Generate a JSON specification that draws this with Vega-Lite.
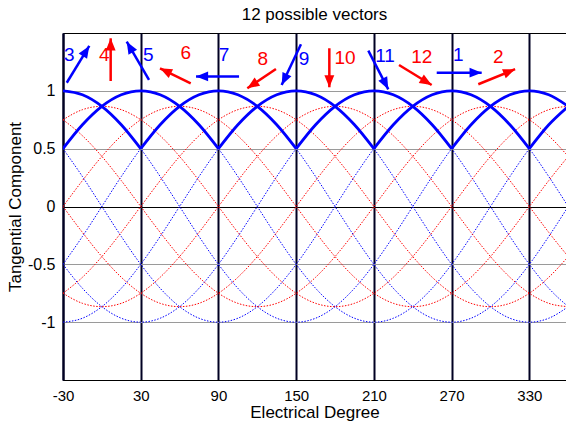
{
"$schema": "https://vega.github.io/schema/vega-lite/v6.json",
"width": 503,
"height": 347,
"autosize": {"type": "none"},
"padding": {"left": 63, "top": 33, "right": 0, "bottom": 41},
"background": "white",
"title": {"text": "12 possible vectors", "fontSize": 17, "font": "Liberation Sans", "fontWeight": "normal", "color": "black", "baseline": "alphabetic", "offset": -4},
"config": {"view": {"stroke": "black", "strokeWidth": 1}, "font": "Liberation Sans"},
"resolve": {"scale": {"color": "independent"}},
"datasets": {
"curves": [
{"s":"b30","x":-30,"y":0.5},{"s":"b30","x":-15,"y":0.707},{"s":"b30","x":0,"y":0.866},{"s":"b30","x":15,"y":0.966},{"s":"b30","x":30,"y":1},{"s":"b30","x":45,"y":0.966},{"s":"b30","x":60,"y":0.866},{"s":"b30","x":75,"y":0.707},{"s":"b30","x":90,"y":0.5},{"s":"b30","x":105,"y":0.259},{"s":"b30","x":120,"y":0},{"s":"b30","x":135,"y":-0.259},{"s":"b30","x":150,"y":-0.5},{"s":"b30","x":165,"y":-0.707},{"s":"b30","x":180,"y":-0.866},{"s":"b30","x":195,"y":-0.966},{"s":"b30","x":210,"y":-1},{"s":"b30","x":225,"y":-0.966},{"s":"b30","x":240,"y":-0.866},{"s":"b30","x":255,"y":-0.707},{"s":"b30","x":270,"y":-0.5},{"s":"b30","x":285,"y":-0.259},{"s":"b30","x":300,"y":0},{"s":"b30","x":315,"y":0.259},{"s":"b30","x":330,"y":0.5},{"s":"b30","x":345,"y":0.707},{"s":"b30","x":360,"y":0.866},
{"s":"b90","x":-30,"y":-0.5},{"s":"b90","x":-15,"y":-0.259},{"s":"b90","x":0,"y":0},{"s":"b90","x":15,"y":0.259},{"s":"b90","x":30,"y":0.5},{"s":"b90","x":45,"y":0.707},{"s":"b90","x":60,"y":0.866},{"s":"b90","x":75,"y":0.966},{"s":"b90","x":90,"y":1},{"s":"b90","x":105,"y":0.966},{"s":"b90","x":120,"y":0.866},{"s":"b90","x":135,"y":0.707},{"s":"b90","x":150,"y":0.5},{"s":"b90","x":165,"y":0.259},{"s":"b90","x":180,"y":0},{"s":"b90","x":195,"y":-0.259},{"s":"b90","x":210,"y":-0.5},{"s":"b90","x":225,"y":-0.707},{"s":"b90","x":240,"y":-0.866},{"s":"b90","x":255,"y":-0.966},{"s":"b90","x":270,"y":-1},{"s":"b90","x":285,"y":-0.966},{"s":"b90","x":300,"y":-0.866},{"s":"b90","x":315,"y":-0.707},{"s":"b90","x":330,"y":-0.5},{"s":"b90","x":345,"y":-0.259},{"s":"b90","x":360,"y":0},
{"s":"b150","x":-30,"y":-1},{"s":"b150","x":-15,"y":-0.966},{"s":"b150","x":0,"y":-0.866},{"s":"b150","x":15,"y":-0.707},{"s":"b150","x":30,"y":-0.5},{"s":"b150","x":45,"y":-0.259},{"s":"b150","x":60,"y":0},{"s":"b150","x":75,"y":0.259},{"s":"b150","x":90,"y":0.5},{"s":"b150","x":105,"y":0.707},{"s":"b150","x":120,"y":0.866},{"s":"b150","x":135,"y":0.966},{"s":"b150","x":150,"y":1},{"s":"b150","x":165,"y":0.966},{"s":"b150","x":180,"y":0.866},{"s":"b150","x":195,"y":0.707},{"s":"b150","x":210,"y":0.5},{"s":"b150","x":225,"y":0.259},{"s":"b150","x":240,"y":0},{"s":"b150","x":255,"y":-0.259},{"s":"b150","x":270,"y":-0.5},{"s":"b150","x":285,"y":-0.707},{"s":"b150","x":300,"y":-0.866},{"s":"b150","x":315,"y":-0.966},{"s":"b150","x":330,"y":-1},{"s":"b150","x":345,"y":-0.966},{"s":"b150","x":360,"y":-0.866},
{"s":"b210","x":-30,"y":-0.5},{"s":"b210","x":-15,"y":-0.707},{"s":"b210","x":0,"y":-0.866},{"s":"b210","x":15,"y":-0.966},{"s":"b210","x":30,"y":-1},{"s":"b210","x":45,"y":-0.966},{"s":"b210","x":60,"y":-0.866},{"s":"b210","x":75,"y":-0.707},{"s":"b210","x":90,"y":-0.5},{"s":"b210","x":105,"y":-0.259},{"s":"b210","x":120,"y":0},{"s":"b210","x":135,"y":0.259},{"s":"b210","x":150,"y":0.5},{"s":"b210","x":165,"y":0.707},{"s":"b210","x":180,"y":0.866},{"s":"b210","x":195,"y":0.966},{"s":"b210","x":210,"y":1},{"s":"b210","x":225,"y":0.966},{"s":"b210","x":240,"y":0.866},{"s":"b210","x":255,"y":0.707},{"s":"b210","x":270,"y":0.5},{"s":"b210","x":285,"y":0.259},{"s":"b210","x":300,"y":0},{"s":"b210","x":315,"y":-0.259},{"s":"b210","x":330,"y":-0.5},{"s":"b210","x":345,"y":-0.707},{"s":"b210","x":360,"y":-0.866},
{"s":"b270","x":-30,"y":0.5},{"s":"b270","x":-15,"y":0.259},{"s":"b270","x":0,"y":0},{"s":"b270","x":15,"y":-0.259},{"s":"b270","x":30,"y":-0.5},{"s":"b270","x":45,"y":-0.707},{"s":"b270","x":60,"y":-0.866},{"s":"b270","x":75,"y":-0.966},{"s":"b270","x":90,"y":-1},{"s":"b270","x":105,"y":-0.966},{"s":"b270","x":120,"y":-0.866},{"s":"b270","x":135,"y":-0.707},{"s":"b270","x":150,"y":-0.5},{"s":"b270","x":165,"y":-0.259},{"s":"b270","x":180,"y":0},{"s":"b270","x":195,"y":0.259},{"s":"b270","x":210,"y":0.5},{"s":"b270","x":225,"y":0.707},{"s":"b270","x":240,"y":0.866},{"s":"b270","x":255,"y":0.966},{"s":"b270","x":270,"y":1},{"s":"b270","x":285,"y":0.966},{"s":"b270","x":300,"y":0.866},{"s":"b270","x":315,"y":0.707},{"s":"b270","x":330,"y":0.5},{"s":"b270","x":345,"y":0.259},{"s":"b270","x":360,"y":0},
{"s":"b330","x":-30,"y":1},{"s":"b330","x":-15,"y":0.966},{"s":"b330","x":0,"y":0.866},{"s":"b330","x":15,"y":0.707},{"s":"b330","x":30,"y":0.5},{"s":"b330","x":45,"y":0.259},{"s":"b330","x":60,"y":0},{"s":"b330","x":75,"y":-0.259},{"s":"b330","x":90,"y":-0.5},{"s":"b330","x":105,"y":-0.707},{"s":"b330","x":120,"y":-0.866},{"s":"b330","x":135,"y":-0.966},{"s":"b330","x":150,"y":-1},{"s":"b330","x":165,"y":-0.966},{"s":"b330","x":180,"y":-0.866},{"s":"b330","x":195,"y":-0.707},{"s":"b330","x":210,"y":-0.5},{"s":"b330","x":225,"y":-0.259},{"s":"b330","x":240,"y":0},{"s":"b330","x":255,"y":0.259},{"s":"b330","x":270,"y":0.5},{"s":"b330","x":285,"y":0.707},{"s":"b330","x":300,"y":0.866},{"s":"b330","x":315,"y":0.966},{"s":"b330","x":330,"y":1},{"s":"b330","x":345,"y":0.966},{"s":"b330","x":360,"y":0.866},
{"s":"r0","x":-30,"y":0.75},{"s":"r0","x":-15,"y":0.837},{"s":"r0","x":0,"y":0.866},{"s":"r0","x":15,"y":0.837},{"s":"r0","x":30,"y":0.75},{"s":"r0","x":45,"y":0.612},{"s":"r0","x":60,"y":0.433},{"s":"r0","x":75,"y":0.224},{"s":"r0","x":90,"y":0},{"s":"r0","x":105,"y":-0.224},{"s":"r0","x":120,"y":-0.433},{"s":"r0","x":135,"y":-0.612},{"s":"r0","x":150,"y":-0.75},{"s":"r0","x":165,"y":-0.837},{"s":"r0","x":180,"y":-0.866},{"s":"r0","x":195,"y":-0.837},{"s":"r0","x":210,"y":-0.75},{"s":"r0","x":225,"y":-0.612},{"s":"r0","x":240,"y":-0.433},{"s":"r0","x":255,"y":-0.224},{"s":"r0","x":270,"y":0},{"s":"r0","x":285,"y":0.224},{"s":"r0","x":300,"y":0.433},{"s":"r0","x":315,"y":0.612},{"s":"r0","x":330,"y":0.75},{"s":"r0","x":345,"y":0.837},{"s":"r0","x":360,"y":0.866},
{"s":"r60","x":-30,"y":0},{"s":"r60","x":-15,"y":0.224},{"s":"r60","x":0,"y":0.433},{"s":"r60","x":15,"y":0.612},{"s":"r60","x":30,"y":0.75},{"s":"r60","x":45,"y":0.837},{"s":"r60","x":60,"y":0.866},{"s":"r60","x":75,"y":0.837},{"s":"r60","x":90,"y":0.75},{"s":"r60","x":105,"y":0.612},{"s":"r60","x":120,"y":0.433},{"s":"r60","x":135,"y":0.224},{"s":"r60","x":150,"y":0},{"s":"r60","x":165,"y":-0.224},{"s":"r60","x":180,"y":-0.433},{"s":"r60","x":195,"y":-0.612},{"s":"r60","x":210,"y":-0.75},{"s":"r60","x":225,"y":-0.837},{"s":"r60","x":240,"y":-0.866},{"s":"r60","x":255,"y":-0.837},{"s":"r60","x":270,"y":-0.75},{"s":"r60","x":285,"y":-0.612},{"s":"r60","x":300,"y":-0.433},{"s":"r60","x":315,"y":-0.224},{"s":"r60","x":330,"y":0},{"s":"r60","x":345,"y":0.224},{"s":"r60","x":360,"y":0.433},
{"s":"r120","x":-30,"y":-0.75},{"s":"r120","x":-15,"y":-0.612},{"s":"r120","x":0,"y":-0.433},{"s":"r120","x":15,"y":-0.224},{"s":"r120","x":30,"y":0},{"s":"r120","x":45,"y":0.224},{"s":"r120","x":60,"y":0.433},{"s":"r120","x":75,"y":0.612},{"s":"r120","x":90,"y":0.75},{"s":"r120","x":105,"y":0.837},{"s":"r120","x":120,"y":0.866},{"s":"r120","x":135,"y":0.837},{"s":"r120","x":150,"y":0.75},{"s":"r120","x":165,"y":0.612},{"s":"r120","x":180,"y":0.433},{"s":"r120","x":195,"y":0.224},{"s":"r120","x":210,"y":0},{"s":"r120","x":225,"y":-0.224},{"s":"r120","x":240,"y":-0.433},{"s":"r120","x":255,"y":-0.612},{"s":"r120","x":270,"y":-0.75},{"s":"r120","x":285,"y":-0.837},{"s":"r120","x":300,"y":-0.866},{"s":"r120","x":315,"y":-0.837},{"s":"r120","x":330,"y":-0.75},{"s":"r120","x":345,"y":-0.612},{"s":"r120","x":360,"y":-0.433},
{"s":"r180","x":-30,"y":-0.75},{"s":"r180","x":-15,"y":-0.837},{"s":"r180","x":0,"y":-0.866},{"s":"r180","x":15,"y":-0.837},{"s":"r180","x":30,"y":-0.75},{"s":"r180","x":45,"y":-0.612},{"s":"r180","x":60,"y":-0.433},{"s":"r180","x":75,"y":-0.224},{"s":"r180","x":90,"y":0},{"s":"r180","x":105,"y":0.224},{"s":"r180","x":120,"y":0.433},{"s":"r180","x":135,"y":0.612},{"s":"r180","x":150,"y":0.75},{"s":"r180","x":165,"y":0.837},{"s":"r180","x":180,"y":0.866},{"s":"r180","x":195,"y":0.837},{"s":"r180","x":210,"y":0.75},{"s":"r180","x":225,"y":0.612},{"s":"r180","x":240,"y":0.433},{"s":"r180","x":255,"y":0.224},{"s":"r180","x":270,"y":0},{"s":"r180","x":285,"y":-0.224},{"s":"r180","x":300,"y":-0.433},{"s":"r180","x":315,"y":-0.612},{"s":"r180","x":330,"y":-0.75},{"s":"r180","x":345,"y":-0.837},{"s":"r180","x":360,"y":-0.866},
{"s":"r240","x":-30,"y":0},{"s":"r240","x":-15,"y":-0.224},{"s":"r240","x":0,"y":-0.433},{"s":"r240","x":15,"y":-0.612},{"s":"r240","x":30,"y":-0.75},{"s":"r240","x":45,"y":-0.837},{"s":"r240","x":60,"y":-0.866},{"s":"r240","x":75,"y":-0.837},{"s":"r240","x":90,"y":-0.75},{"s":"r240","x":105,"y":-0.612},{"s":"r240","x":120,"y":-0.433},{"s":"r240","x":135,"y":-0.224},{"s":"r240","x":150,"y":0},{"s":"r240","x":165,"y":0.224},{"s":"r240","x":180,"y":0.433},{"s":"r240","x":195,"y":0.612},{"s":"r240","x":210,"y":0.75},{"s":"r240","x":225,"y":0.837},{"s":"r240","x":240,"y":0.866},{"s":"r240","x":255,"y":0.837},{"s":"r240","x":270,"y":0.75},{"s":"r240","x":285,"y":0.612},{"s":"r240","x":300,"y":0.433},{"s":"r240","x":315,"y":0.224},{"s":"r240","x":330,"y":0},{"s":"r240","x":345,"y":-0.224},{"s":"r240","x":360,"y":-0.433},
{"s":"r300","x":-30,"y":0.75},{"s":"r300","x":-15,"y":0.612},{"s":"r300","x":0,"y":0.433},{"s":"r300","x":15,"y":0.224},{"s":"r300","x":30,"y":0},{"s":"r300","x":45,"y":-0.224},{"s":"r300","x":60,"y":-0.433},{"s":"r300","x":75,"y":-0.612},{"s":"r300","x":90,"y":-0.75},{"s":"r300","x":105,"y":-0.837},{"s":"r300","x":120,"y":-0.866},{"s":"r300","x":135,"y":-0.837},{"s":"r300","x":150,"y":-0.75},{"s":"r300","x":165,"y":-0.612},{"s":"r300","x":180,"y":-0.433},{"s":"r300","x":195,"y":-0.224},{"s":"r300","x":210,"y":0},{"s":"r300","x":225,"y":0.224},{"s":"r300","x":240,"y":0.433},{"s":"r300","x":255,"y":0.612},{"s":"r300","x":270,"y":0.75},{"s":"r300","x":285,"y":0.837},{"s":"r300","x":300,"y":0.866},{"s":"r300","x":315,"y":0.837},{"s":"r300","x":330,"y":0.75},{"s":"r300","x":345,"y":0.612},{"s":"r300","x":360,"y":0.433}
],
"thick": [
{"a":-30,"x":-30,"y":1},{"a":-30,"x":-15,"y":0.966},{"a":-30,"x":0,"y":0.866},{"a":-30,"x":15,"y":0.707},{"a":-30,"x":30,"y":0.5},
{"a":30,"x":-30,"y":0.5},{"a":30,"x":-15,"y":0.707},{"a":30,"x":0,"y":0.866},{"a":30,"x":15,"y":0.966},{"a":30,"x":30,"y":1},{"a":30,"x":45,"y":0.966},{"a":30,"x":60,"y":0.866},{"a":30,"x":75,"y":0.707},{"a":30,"x":90,"y":0.5},
{"a":90,"x":30,"y":0.5},{"a":90,"x":45,"y":0.707},{"a":90,"x":60,"y":0.866},{"a":90,"x":75,"y":0.966},{"a":90,"x":90,"y":1},{"a":90,"x":105,"y":0.966},{"a":90,"x":120,"y":0.866},{"a":90,"x":135,"y":0.707},{"a":90,"x":150,"y":0.5},
{"a":150,"x":90,"y":0.5},{"a":150,"x":105,"y":0.707},{"a":150,"x":120,"y":0.866},{"a":150,"x":135,"y":0.966},{"a":150,"x":150,"y":1},{"a":150,"x":165,"y":0.966},{"a":150,"x":180,"y":0.866},{"a":150,"x":195,"y":0.707},{"a":150,"x":210,"y":0.5},
{"a":210,"x":150,"y":0.5},{"a":210,"x":165,"y":0.707},{"a":210,"x":180,"y":0.866},{"a":210,"x":195,"y":0.966},{"a":210,"x":210,"y":1},{"a":210,"x":225,"y":0.966},{"a":210,"x":240,"y":0.866},{"a":210,"x":255,"y":0.707},{"a":210,"x":270,"y":0.5},
{"a":270,"x":210,"y":0.5},{"a":270,"x":225,"y":0.707},{"a":270,"x":240,"y":0.866},{"a":270,"x":255,"y":0.966},{"a":270,"x":270,"y":1},{"a":270,"x":285,"y":0.966},{"a":270,"x":300,"y":0.866},{"a":270,"x":315,"y":0.707},{"a":270,"x":330,"y":0.5},
{"a":330,"x":270,"y":0.5},{"a":330,"x":285,"y":0.707},{"a":330,"x":300,"y":0.866},{"a":330,"x":315,"y":0.966},{"a":330,"x":330,"y":1},{"a":330,"x":345,"y":0.966},{"a":330,"x":360,"y":0.866},
{"a":390,"x":330,"y":0.5},{"a":390,"x":345,"y":0.707},{"a":390,"x":360,"y":0.866}
],
"vec": [
{"n":"1","g":"long","ang":0,"x":258.5,"y":1.157,"x2":293.2,"y2":1.157,"lx":275.2,"ly":1.31},
{"n":"2","g":"short","ang":22,"x":290.6,"y":1.057,"x2":319.0,"y2":1.187,"lx":306.1,"ly":1.29},
{"n":"3","g":"long","ang":58,"x":-27.1,"y":1.07,"x2":-9.7,"y2":1.388,"lx":-25.1,"ly":1.31},
{"n":"4","g":"short","ang":90,"x":6.8,"y":1.085,"x2":6.8,"y2":1.454,"lx":1.9,"ly":1.31},
{"n":"5","g":"long","ang":120,"x":36.4,"y":1.094,"x2":19.2,"y2":1.425,"lx":35.9,"ly":1.31},
{"n":"6","g":"short","ang":154,"x":68.6,"y":1.065,"x2":44.9,"y2":1.195,"lx":64.7,"ly":1.33},
{"n":"7","g":"long","ang":180,"x":105.9,"y":1.125,"x2":72.7,"y2":1.125,"lx":94.3,"ly":1.31},
{"n":"8","g":"short","ang":214,"x":134.4,"y":1.189,"x2":112.3,"y2":1.022,"lx":124.2,"ly":1.273},
{"n":"9","g":"long","ang":244,"x":153.7,"y":1.402,"x2":138.8,"y2":1.05,"lx":156.1,"ly":1.273},
{"n":"10","g":"short","ang":270,"x":175.6,"y":1.368,"x2":175.6,"y2":1.031,"lx":187.7,"ly":1.281},
{"n":"11","g":"long","ang":297,"x":205.7,"y":1.347,"x2":221.1,"y2":1.013,"lx":218.6,"ly":1.301},
{"n":"12","g":"short","ang":329,"x":229.4,"y":1.223,"x2":254.6,"y2":1.05,"lx":246.9,"ly":1.295}
]
},
"layer": [
{"data": {"name": "curves"},
 "mark": {"type": "line", "interpolate": "monotone", "strokeWidth": 1, "strokeDash": [1.5, 1.5], "clip": true},
 "encoding": {
  "x": {"field": "x", "type": "quantitative", "scale": {"domain": [-30, 358.3], "nice": false, "zero": false},
        "axis": {"values": [-30, 30, 90, 150, 210, 270, 330], "labelExpr": "'' + datum.value", "title": "Electrical Degree",
                 "grid": true, "gridColor": "#000022", "gridWidth": 2, "ticks": false, "tickSize": 0, "domainColor": "black", "domainWidth": 1,
                 "labelFlush": false, "labelFont": "Liberation Sans", "labelFontSize": 15, "labelColor": "black", "labelPadding": 8,
                 "titleFont": "Liberation Sans", "titleFontSize": 17, "titleFontWeight": "normal", "titleColor": "black", "titlePadding": 1}},
  "y": {"field": "y", "type": "quantitative", "scale": {"domain": [-1.5, 1.5], "nice": false, "zero": false},
        "axis": {"values": [-1, -0.5, 0, 0.5, 1], "labelExpr": "'' + datum.value", "title": "Tangential Component",
                 "grid": true, "gridColor": {"condition": {"test": "datum.value === 0", "value": "black"}, "value": "#9a9a9a"}, "gridWidth": 1,
                 "ticks": false, "tickSize": 0, "domainColor": "#000022", "domainWidth": 2,
                 "labelFlush": false, "labelFont": "Liberation Sans", "labelFontSize": 16, "labelColor": "black", "labelPadding": 8,
                 "titleFont": "Liberation Sans", "titleFontSize": 17, "titleFontWeight": "normal", "titleColor": "black", "titlePadding": 3}},
  "color": {"field": "s", "type": "nominal", "legend": null,
            "scale": {"domain": ["b30","b90","b150","b210","b270","b330","r0","r60","r120","r180","r240","r300"],
                      "range": ["#0000ff","#0000ff","#0000ff","#0000ff","#0000ff","#0000ff","#ff0000","#ff0000","#ff0000","#ff0000","#ff0000","#ff0000"]}}
 }},
{"data": {"name": "thick"},
 "mark": {"type": "line", "interpolate": "monotone", "strokeWidth": 2.8, "color": "#0000ff", "clip": true},
 "encoding": {
  "x": {"field": "x", "type": "quantitative"},
  "y": {"field": "y", "type": "quantitative"},
  "detail": {"field": "a", "type": "nominal"}
 }},
{"data": {"name": "vec"},
 "mark": {"type": "rule", "strokeWidth": 2.5},
 "encoding": {
  "x": {"field": "x", "type": "quantitative"},
  "y": {"field": "y", "type": "quantitative"},
  "x2": {"field": "x2"},
  "y2": {"field": "y2"},
  "color": {"field": "g", "type": "nominal", "legend": null, "scale": {"domain": ["long", "short"], "range": ["#0000ff", "#ff0000"]}}
 }},
{"data": {"name": "vec"},
 "mark": {"type": "point", "shape": "M0,0L-0.45,1.1L0.45,1.1Z", "filled": true, "size": 484, "opacity": 1, "strokeWidth": 0},
 "encoding": {
  "x": {"field": "x2", "type": "quantitative"},
  "y": {"field": "y2", "type": "quantitative"},
  "angle": {"field": "ang", "type": "quantitative", "scale": {"domain": [0, 360], "range": [90, -270]}},
  "color": {"field": "g", "type": "nominal", "legend": null, "scale": {"domain": ["long", "short"], "range": ["#0000ff", "#ff0000"]}}
 }},
{"data": {"name": "vec"},
 "mark": {"type": "text", "fontSize": 19, "font": "Liberation Sans", "align": "center", "baseline": "middle"},
 "encoding": {
  "x": {"field": "lx", "type": "quantitative"},
  "y": {"field": "ly", "type": "quantitative"},
  "text": {"field": "n"},
  "color": {"field": "g", "type": "nominal", "legend": null, "scale": {"domain": ["long", "short"], "range": ["#0000ff", "#ff0000"]}}
 }}
]
}
